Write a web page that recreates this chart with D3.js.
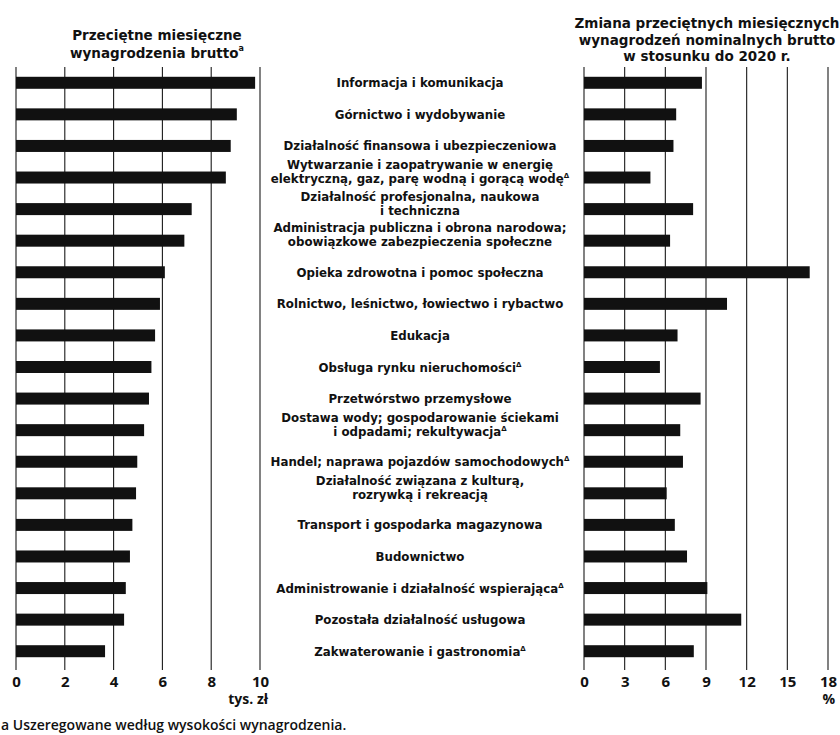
<!DOCTYPE html>
<html>
<head>
<meta charset="utf-8">
<script src="https://cdn.jsdelivr.net/npm/d3@7"></script>
<style>
  body { margin: 0; background: #fff; }
  svg { font-family: "Open Sans", sans-serif; }
  .lbl { font-family: "DejaVu Sans", sans-serif; font-weight: bold; }
</style>
</head>
<body>
<svg id="chart" width="840" height="735"></svg>
<script>
// sections, each as lines of the centre label
const categories = [
    ["Informacja i komunikacja"],
    ["Górnictwo i wydobywanie"],
    ["Działalność finansowa i ubezpieczeniowa"],
    ["Wytwarzanie i zaopatrywanie w energię", "elektryczną, gaz, parę wodną i gorącą wodę"],
    ["Działalność profesjonalna, naukowa", "i techniczna"],
    ["Administracja publiczna i obrona narodowa;", "obowiązkowe zabezpieczenia społeczne"],
    ["Opieka zdrowotna i pomoc społeczna"],
    ["Rolnictwo, leśnictwo, łowiectwo i rybactwo"],
    ["Edukacja"],
    ["Obsługa rynku nieruchomości"],
    ["Przetwórstwo przemysłowe"],
    ["Dostawa wody; gospodarowanie ściekami", "i odpadami; rekultywacja"],
    ["Handel; naprawa pojazdów samochodowych"],
    ["Działalność związana z kulturą,", "rozrywką i rekreacją"],
    ["Transport i gospodarka magazynowa"],
    ["Budownictwo"],
    ["Administrowanie i działalność wspierająca"],
    ["Pozostała działalność usługowa"],
    ["Zakwaterowanie i gastronomia"]
];
// abbreviated section names get the Δ mark
const abbreviated = [false, false, false, true, false, false, false, false, false, true,
                     false, true, true, false, false, false, true, false, true];

// average monthly gross wages, thousand zł
const wages = [9.8, 9.05, 8.8, 8.6, 7.2, 6.9, 6.1, 5.9, 5.7, 5.55,
               5.45, 5.25, 4.97, 4.92, 4.77, 4.67, 4.5, 4.43, 3.65];
// change vs 2020, %
const wageChange = [8.7, 6.8, 6.6, 4.9, 8.05, 6.35, 16.65, 10.55, 6.9, 5.6,
                    8.6, 7.1, 7.3, 6.1, 6.7, 7.6, 9.1, 11.6, 8.1];

const wageTicks = [0, 2, 4, 6, 8, 10];
const changeTicks = [0, 3, 6, 9, 12, 15, 18];

const svg = d3.select("#chart");
const top_y = 67, bottom_y = 667, grid_end = 670;
const line_h = 13.8;

const y = d3.scaleBand()
    .domain(d3.range(categories.length))
    .range([top_y, bottom_y])
    .paddingInner(0.62)
    .paddingOuter(0.31);

const xWage = d3.scaleLinear().domain([0, 10]).range([16, 260]);
const xChange = d3.scaleLinear().domain([0, 18]).range([584, 828]);

function panel(x, ticks, values, unit, unitX) {
    const g = svg.append("g");

    g.append("g")
        .selectAll("line")
        .data(ticks)
        .join("line")
        .attr("x1", d => x(d)).attr("x2", d => x(d))
        .attr("y1", top_y).attr("y2", grid_end)
        .attr("stroke", "#1a1a1a")
        .attr("stroke-width", 1.1);

    g.append("g")
        .selectAll("rect")
        .data(values)
        .join("rect")
        .attr("x", x(0))
        .attr("y", (d, i) => y(i))
        .attr("width", d => x(d) - x(0))
        .attr("height", y.bandwidth())
        .attr("fill", "#111");

    g.append("g")
        .attr("transform", `translate(0, ${grid_end})`)
        .call(d3.axisBottom(x).tickValues(ticks).tickSize(0).tickPadding(6).tickFormat(d3.format("d")))
        .call(a => a.select(".domain").remove())
        .call(a => a.selectAll("text")
            .attr("font-family", "'Open Sans', sans-serif")
            .attr("font-size", 15)
            .attr("font-weight", 700)
            .attr("fill", "#111"));

    g.append("text")
        .attr("x", unitX)
        .attr("y", 704)
        .attr("text-anchor", "end")
        .attr("font-size", 14)
        .attr("font-weight", 700)
        .attr("fill", "#111")
        .text(unit);
}

panel(xWage, wageTicks, wages, "tys. zł", 268);
panel(xChange, changeTicks, wageChange, "%", 835);

// centre labels, one text per line; two-line labels sit slightly above the bar
const labels = svg.append("g")
    .attr("class", "lbl")
    .attr("font-size", 11.8)
    .attr("fill", "#111")
    .attr("text-anchor", "middle");

categories.forEach((lines, i) => {
    const base = y(i) + y.bandwidth() / 2 + 4.5 - (lines.length - 1) * (line_h - 1);
    lines.forEach((line, j) => {
        const t = labels.append("text")
            .attr("x", 420)
            .attr("y", base + j * line_h)
            .text(line);
        if (j === lines.length - 1 && abbreviated[i]) {
            t.append("tspan")
                .attr("font-size", 7)
                .attr("dy", -5)
                .text("Δ");
        }
    });
});

// panel titles
const titleLeft = svg.append("text")
    .attr("class", "lbl")
    .attr("text-anchor", "middle")
    .attr("font-size", 13.5)
    .attr("fill", "#111");
titleLeft.append("tspan").attr("x", 157).attr("y", 40).text("Przeciętne miesięczne");
titleLeft.append("tspan").attr("x", 157).attr("y", 58).text("wynagrodzenia brutto");
titleLeft.append("tspan").attr("font-size", 8).attr("dy", -7).text("a");

const titleRight = svg.append("text")
    .attr("class", "lbl")
    .attr("text-anchor", "middle")
    .attr("font-size", 13.5)
    .attr("fill", "#111");
["Zmiana przeciętnych miesięcznych", "wynagrodzeń nominalnych brutto", "w stosunku do 2020 r."]
    .forEach((line, j) => titleRight.append("tspan")
        .attr("x", 707).attr("y", 28 + j * 16.5).text(line));

svg.append("text")
    .attr("x", 1)
    .attr("y", 730)
    .attr("font-size", 14)
    .attr("font-weight", 600)
    .attr("fill", "#111")
    .text("a Uszeregowane według wysokości wynagrodzenia.");
</script>
</body>
</html>
